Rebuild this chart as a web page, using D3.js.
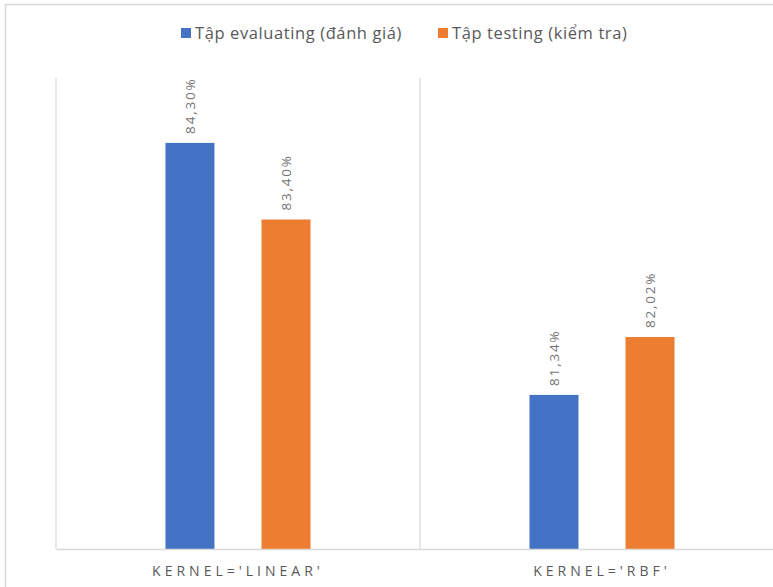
<!DOCTYPE html>
<html>
<head>
<meta charset="utf-8">
<script src="https://cdn.jsdelivr.net/npm/d3@7"></script>
<style>
  html, body { margin: 0; padding: 0; background: #ffffff; }
  svg { display: block; }
</style>
</head>
<body>
<script>
// ---- data ----
const categories = ["KERNEL='LINEAR'", "KERNEL='RBF'"];
const seriesNames = ["Tập evaluating (đánh giá)", "Tập testing (kiểm tra)"];
const evaluatingValues = [84.30, 81.34];
const testingValues = [83.40, 82.02];
const seriesColors = ["#4472C4", "#ED7D31"];

const W = 773, H = 587;
const svg = d3.select("body").append("svg").attr("width", W).attr("height", H);

// outer chart border (partially visible)
svg.append("rect").attr("x", 5.5).attr("y", 4.5).attr("width", 800).attr("height", 800)
  .attr("fill", "#fff").attr("stroke", "#d9d9d9").attr("stroke-width", 1.5);

const plot = { left: 56, right: 784, top: 78, bottom: 549 };

const x0 = d3.scaleBand().domain(categories).range([plot.left, plot.right]).padding(0);
const x1 = d3.scaleBand().domain(seriesNames).range([0, x0.bandwidth()])
  .paddingInner(0.49).paddingOuter(1.14);
const y = d3.scaleLinear().domain([79.53, 85]).range([plot.bottom, plot.bottom - 85.14 * (85 - 79.53)]);

const rows = categories.map((c, i) => ({ cat: c, vals: [evaluatingValues[i], testingValues[i]] }));

// category separators
const seps = [plot.left, ...categories.slice(1).map(c => x0(c))];
svg.selectAll("line.sep").data(seps).enter().append("line")
  .attr("x1", d => d).attr("x2", d => d)
  .attr("y1", plot.top).attr("y2", plot.bottom)
  .attr("stroke", "#d9d9d9").attr("stroke-width", 1.2);

// bars
const g = svg.selectAll("g.cat").data(rows).enter().append("g")
  .attr("transform", d => `translate(${x0(d.cat)},0)`);

g.selectAll("rect").data(d => d.vals.map((v, j) => ({ v, s: seriesNames[j], j })))
  .enter().append("rect")
  .attr("x", d => x1(d.s)).attr("width", x1.bandwidth())
  .attr("y", d => y(d.v)).attr("height", d => plot.bottom - y(d.v))
  .attr("fill", d => seriesColors[d.j]);

// data labels (rotated)
g.selectAll("text.lbl").data(d => d.vals.map((v, j) => ({ v, s: seriesNames[j], j })))
  .enter().append("text")
  .attr("transform", d => `translate(${x1(d.s) + x1.bandwidth() / 2 + 5},${y(d.v) - 9}) rotate(-90)`)
  .attr("font-family", "Open Sans, sans-serif").attr("font-size", 13.5)
  .attr("letter-spacing", 1.8)
  .attr("fill", "#737373")
  .text(d => d.v.toFixed(2).replace(".", ",") + "%");

// x axis baseline
const xAxis = d3.axisBottom(x0).tickSize(0).tickPadding(17);
const ax = svg.append("g").attr("transform", `translate(0,${plot.bottom})`).call(xAxis);
ax.select(".domain").attr("stroke", "#d9d9d9").attr("stroke-width", 1.5);
ax.selectAll("text")
  .attr("font-family", "Open Sans, sans-serif").attr("font-size", 14)
  .attr("letter-spacing", 4).attr("fill", "#595959");

// legend
const legendItems = [
  { name: seriesNames[0], color: seriesColors[0], x: 181 },
  { name: seriesNames[1], color: seriesColors[1], x: 438 }
];
const lg = svg.selectAll("g.leg").data(legendItems).enter().append("g")
  .attr("transform", d => `translate(${d.x},28)`);
lg.append("rect").attr("width", 10).attr("height", 10).attr("fill", d => d.color);
lg.append("text").attr("x", 14).attr("y", 11)
  .attr("font-family", "Open Sans, sans-serif").attr("font-size", 16.5)
  .attr("letter-spacing", 0.6)
  .attr("fill", "#595959").text(d => d.name);
</script>
</body>
</html>
